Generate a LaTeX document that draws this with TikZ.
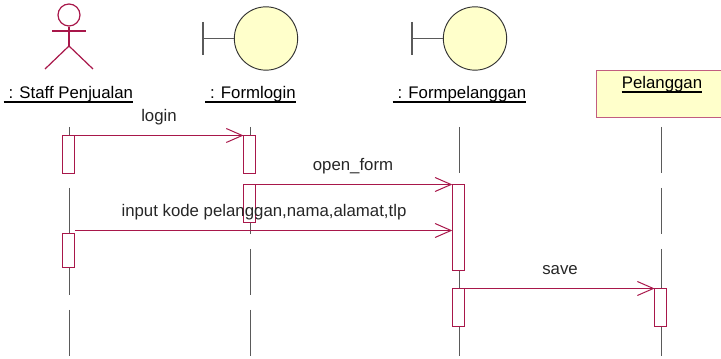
\documentclass[tikz,border=0pt]{standalone}
\usepackage{fontspec}
\setmainfont{Liberation Sans}
\usepackage{tikz}
\usetikzlibrary{arrows.meta}
\definecolor{umlred}{HTML}{A8174A}
\definecolor{umlfill}{HTML}{FFFFCB}
\definecolor{umlgray}{HTML}{5A5A5A}
\tikzset{
    lifeline/.style={draw=umlgray, line width=0.75pt, dash pattern=on 34.5pt off 11.25pt},
    activation/.style={draw=umlred, fill=white, line width=0.75pt, anchor=north, inner sep=0pt, outer sep=0pt, minimum width=9pt},
    message/.style={draw=umlred, line width=0.75pt, -{Straight Barb[length=12pt,width=10.5pt]}},
    label/.style={text=black!85, font=\fontsize{12.6}{15}\selectfont, inner sep=0pt, anchor=base},
    objname/.style={label, text=black, text depth=2.1pt},
    boundaryball/.style={circle, draw=black!80, fill=umlfill, line width=0.7pt, inner sep=0pt, minimum size=47.5pt},
}
\begin{document}
\begin{tikzpicture}[x=0.75pt,y=-0.75pt]
    \useasboundingbox (0,0) rectangle (721,359);

    % actor
    \node[circle, draw=umlred, line width=0.9pt, inner sep=0pt, minimum size=16.5pt] (head) at (69,15) {};
    \coordinate (arml) at (52,31);
    \coordinate (armr) at (86,31);
    \coordinate (hip) at (69,46);
    \coordinate (footl) at (45,69);
    \coordinate (footr) at (93,69);
    \draw[umlred, line width=0.9pt] (head.south) -- (hip);
    \draw[umlred, line width=0.9pt] (arml) -- (armr);
    \draw[umlred, line width=0.9pt] (footl) -- (hip) -- (footr);

    % boundary objects
    \node[boundaryball] (formlogin) at (266,38.5) {};
    \node[boundaryball] (formpelanggan) at (475,38.5) {};
    \foreach \ball/\barx in {formlogin/203, formpelanggan/412} {
        \coordinate (\ball bar) at (\barx,38.5);
        \coordinate (\ball top) at (\barx,22);
        \coordinate (\ball bot) at (\barx,55);
        \draw[umlgray, line width=1pt] (\ball top) -- (\ball bot);
        \draw[umlgray, line width=1pt] (\ball bar) -- (\ball.west);
    }

    % class box, runs off the right edge
    \node[draw=umlred!70, fill=umlfill, line width=1pt, anchor=north west, inner sep=0pt,
        minimum width=97.5pt, minimum height=35.25pt] (pelanggan) at (596,70) {};

    \node[objname] (staffname) at (68.5,99) {\ : Staff Penjualan};
    \node[objname] (loginname) at (250.5,99) {\ : Formlogin};
    \node[objname] (pelangganname) at (459.5,99) {\ : Formpelanggan};
    \node[objname] (classname) at (662,89) {Pelanggan};
    \foreach \name in {staffname, loginname, pelangganname, classname} {
        \draw[line width=1pt] (\name.south west) -- (\name.south east);
    }

    % lifelines
    \foreach \obj/\x in {staff/69, login/250, form/459, pel/661} {
        \coordinate (\obj top) at (\x,127);
        \coordinate (\obj end) at (\x,358.5);
        \path[lifeline] (\obj top) -- (\obj end);
    }

    % activations
    \node[activation, minimum height=28.5pt] (staffa) at (68,135.5) {};
    \node[activation, minimum height=25.5pt] (staffb) at (68,233.5) {};
    \node[activation, minimum height=28.5pt] (logina) at (249.5,135.5) {};
    \node[activation, minimum height=28.5pt] (loginb) at (249.5,184.5) {};
    \node[activation, minimum height=64.5pt] (forma) at (458.3,184.5) {};
    \node[activation, minimum height=28.5pt] (formb) at (458.3,288.5) {};
    \node[activation, minimum height=28.5pt] (pela) at (660.6,288.5) {};

    % messages
    \coordinate (inputstart) at (75,230.5);
    \coordinate (inputend) at (452.3,230.5);
    \draw[message] (staffa.north east) -- (logina.north west);
    \draw[message] (loginb.north east) -- (forma.north west);
    \draw[message] (inputstart) -- (inputend);
    \draw[message] (formb.north east) -- (pela.north west);

    \node[label] (loginmsg) at (159,121.5) {login};
    \node[label] (openmsg) at (353,170.5) {open\_form};
    \node[label] (inputmsg) at (264,216.5) {input kode pelanggan,nama,alamat,tlp};
    \node[label] (savemsg) at (560,275) {save};
\end{tikzpicture}
\end{document}
